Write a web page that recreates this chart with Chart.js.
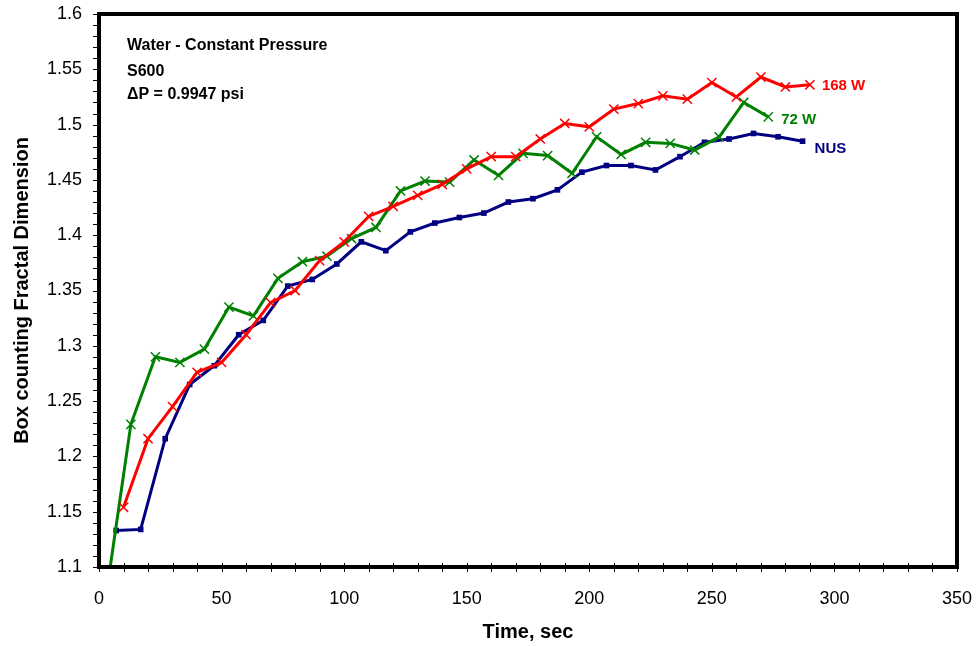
<!DOCTYPE html>
<html>
<head>
<meta charset="utf-8">
<script src="https://cdn.jsdelivr.net/npm/chart.js@4/dist/chart.umd.min.js"></script>
<style>
  html, body { margin: 0; padding: 0; background: #fff; }
  #wrap { width: 979px; height: 646px; }
</style>
</head>
<body>
<div id="wrap"><canvas id="fractalChart" width="979" height="646"></canvas></div>
<script>
// Box counting fractal dimension vs time
const nusTime = [7, 17, 27, 37, 47, 57, 67, 77, 87, 97, 107, 117, 127, 137, 147, 157, 167, 177, 187, 197, 207, 217, 227, 237, 247, 257, 267, 277, 287];
const nusFd = [1.133, 1.134, 1.216, 1.265, 1.282, 1.310, 1.323, 1.354, 1.360, 1.374, 1.394, 1.386, 1.403, 1.411, 1.416, 1.420, 1.430, 1.433, 1.441, 1.457, 1.463, 1.463, 1.459, 1.471, 1.484, 1.487, 1.492, 1.489, 1.485];

const w168Time = [10, 20, 30, 40, 50, 60, 70, 80, 90, 100, 110, 120, 130, 140, 150, 160, 170, 180, 190, 200, 210, 220, 230, 240, 250, 260, 270, 280, 290];
const w168Fd = [1.154, 1.216, 1.245, 1.276, 1.285, 1.310, 1.339, 1.350, 1.377, 1.394, 1.417, 1.426, 1.436, 1.446, 1.460, 1.471, 1.471, 1.487, 1.501, 1.498, 1.514, 1.519, 1.526, 1.523, 1.538, 1.525, 1.543, 1.534, 1.536];

const w72Time = [3, 13, 23, 33, 43, 53, 63, 73, 83, 93, 103, 113, 123, 133, 143, 153, 163, 173, 183, 193, 203, 213, 223, 233, 243, 253, 263, 273];
const w72Fd = [1.076, 1.229, 1.290, 1.285, 1.297, 1.335, 1.327, 1.361, 1.376, 1.381, 1.397, 1.407, 1.440, 1.449, 1.448, 1.468, 1.454, 1.474, 1.472, 1.456, 1.489, 1.473, 1.484, 1.483, 1.477, 1.489, 1.520, 1.507];

const seriesLabels = ['168 W', '72 W', 'NUS'];
const infoLines = ['Water - Constant Pressure', 'S600', '\u0394P = 0.9947 psi'];

const FONT = 'Arial, "Liberation Sans", sans-serif';

function toPoints(xs, ys) {
    return xs.map((x, i) => ({ x: x, y: ys[i] }));
}

// frame, minor ticks and text labels
const decorPlugin = {
    id: 'decor',
    afterDatasetsDraw(chart) {
        const ctx = chart.ctx;
        const area = chart.chartArea;
        const xs = chart.scales.x;
        const ys = chart.scales.y;
        ctx.save();
        ctx.strokeStyle = '#000';
        ctx.lineWidth = 1;
        for (let v = 0; v <= 350; v += 10) {
            const px = Math.round(xs.getPixelForValue(v)) + 0.5;
            ctx.beginPath();
            ctx.moveTo(px, area.bottom - 4);
            ctx.lineTo(px, area.bottom + 5);
            ctx.stroke();
        }
        for (let i = 0; i <= 50; i++) {
            const py = Math.round(ys.getPixelForValue(1.1 + i * 0.01)) + 0.5;
            ctx.beginPath();
            ctx.moveTo(area.left - 6, py);
            ctx.lineTo(area.left + 2, py);
            ctx.stroke();
        }
        ctx.lineWidth = 4;
        ctx.strokeRect(area.left, area.top, area.right - area.left, area.bottom - area.top);

        // info text
        ctx.fillStyle = '#000';
        ctx.font = 'bold 16px ' + FONT;
        ctx.textBaseline = 'middle';
        ctx.textAlign = 'left';
        ctx.fillText(infoLines[0], area.left + 28, area.top + 32);
        ctx.fillText(infoLines[1], area.left + 28, area.top + 58);
        ctx.fillText(infoLines[2], area.left + 28, area.top + 81);

        // series labels next to last points
        ctx.font = 'bold 15px ' + FONT;
        const offs = [[12, 1], [13, 3], [12, 8]];
        chart.data.datasets.forEach((ds, i) => {
            const last = ds.data[ds.data.length - 1];
            const px = xs.getPixelForValue(last.x);
            const py = ys.getPixelForValue(last.y);
            ctx.fillStyle = ds.borderColor;
            ctx.fillText(seriesLabels[i], px + offs[i][0], py + offs[i][1]);
        });
        ctx.restore();
    }
};

new Chart(document.getElementById('fractalChart'), {
    type: 'scatter',
    data: {
        datasets: [
            {
                label: seriesLabels[0],
                data: toPoints(w168Time, w168Fd),
                showLine: true,
                borderColor: '#ff0000',
                backgroundColor: '#ff0000',
                borderWidth: 3,
                pointStyle: 'crossRot',
                pointRadius: 6.5,
                pointBorderWidth: 1.5,
                pointBorderColor: '#ff0000'
            },
            {
                label: seriesLabels[1],
                data: toPoints(w72Time, w72Fd),
                showLine: true,
                borderColor: '#008000',
                backgroundColor: '#008000',
                borderWidth: 3,
                pointStyle: 'crossRot',
                pointRadius: 6.5,
                pointBorderWidth: 1.5,
                pointBorderColor: '#008000'
            },
            {
                label: seriesLabels[2],
                data: toPoints(nusTime, nusFd),
                showLine: true,
                borderColor: '#000080',
                backgroundColor: '#000080',
                borderWidth: 3,
                pointStyle: 'rect',
                pointRadius: 4,
                pointBorderWidth: 0
            }
        ]
    },
    options: {
        responsive: false,
        animation: false,
        layout: { padding: { left: 0, right: 22, top: 14, bottom: 0 } },
        plugins: {
            legend: { display: false },
            tooltip: { enabled: false }
        },
        scales: {
            x: {
                type: 'linear',
                min: 0,
                max: 350,
                ticks: {
                    stepSize: 50,
                    color: '#000',
                    font: { family: FONT, size: 18 },
                    padding: 13
                },
                grid: { display: false },
                border: { display: false },
                title: {
                    display: true,
                    text: 'Time, sec',
                    color: '#000',
                    font: { family: FONT, size: 20, weight: 'bold' },
                    padding: { top: 0, bottom: 2 }
                },
                afterFit(scale) {
                    scale.height = 79;
                    scale.paddingLeft = 0;
                    scale.paddingRight = 0;
                }
            },
            y: {
                type: 'linear',
                min: 1.1,
                max: 1.6,
                ticks: {
                    stepSize: 0.05,
                    color: '#000',
                    font: { family: FONT, size: 18 },
                    padding: 9,
                    callback: function(v) { return String(Number(v.toFixed(2))); }
                },
                grid: { display: false },
                border: { display: false },
                title: {
                    display: true,
                    text: 'Box counting Fractal Dimension',
                    color: '#000',
                    font: { family: FONT, size: 20, weight: 'bold' },
                    padding: { top: 10, bottom: 0 }
                },
                afterFit(scale) {
                    scale.width = 99;
                    scale.paddingTop = 0;
                    scale.paddingBottom = 0;
                }
            }
        }
    },
    plugins: [decorPlugin]
});
</script>
</body>
</html>
